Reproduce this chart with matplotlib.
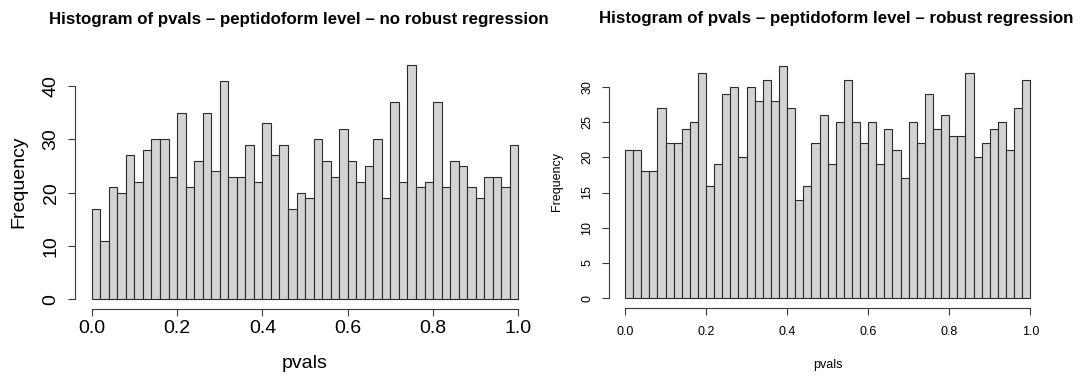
#!/usr/bin/env python3
# Two p-value histograms, peptidoform level, without and with robust regression

import numpy as np
import matplotlib.pyplot as plt

plt.rcParams['font.family'] = ['Liberation Sans', 'DejaVu Sans']

# 50 bins of width 0.02 on [0, 1]
bin_edges = np.linspace(0.0, 1.0, 51)

counts_no_robust = [17, 11, 21, 20, 27, 22, 28, 30, 30, 23,
                    35, 21, 26, 35, 24, 41, 23, 23, 29, 22,
                    33, 27, 29, 17, 20, 19, 30, 26, 23, 32,
                    26, 22, 25, 30, 19, 37, 22, 44, 21, 22,
                    37, 21, 26, 25, 21, 19, 23, 23, 21, 29]

counts_robust = [21, 21, 18, 18, 27, 22, 22, 24, 25, 32,
                 16, 19, 29, 30, 20, 30, 28, 31, 28, 33,
                 27, 14, 16, 22, 26, 19, 25, 31, 25, 22,
                 25, 19, 24, 21, 17, 25, 22, 29, 24, 26,
                 23, 23, 32, 20, 22, 24, 25, 21, 27, 31]

titles = ["Histogram of pvals \u2013 peptidoform level \u2013 no robust regression",
          "Histogram of pvals \u2013 peptidoform level \u2013 robust regression"]
x_ticks = [0.0, 0.2, 0.4, 0.6, 0.8, 1.0]
y_ticks_left = [0, 10, 20, 30, 40]
y_ticks_right = [0, 5, 10, 15, 20, 25, 30]

AXIS_COLOR = '#3a3a3a'


def r_hist(ax, counts, title, yticks, fs, xpad, ypad, title_xy, xlab_y, ylab_x):
    counts = np.asarray(counts)
    widths = np.diff(bin_edges)
    ax.bar(bin_edges[:-1], counts, width=widths, align='edge',
           color='#d3d3d3', edgecolor='#2b2b2b', linewidth=0.8)

    # base-R style axis ranges (4% padding)
    ax.set_xlim(-0.04, 1.04)
    top = counts.max()
    ax.set_ylim(-0.04 * top, 1.04 * top)

    for side in ['top', 'right']:
        ax.spines[side].set_visible(False)
    ax.spines['left'].set_bounds(yticks[0], yticks[-1])
    ax.spines['bottom'].set_bounds(x_ticks[0], x_ticks[-1])
    for side in ['left', 'bottom']:
        ax.spines[side].set_color(AXIS_COLOR)
        ax.spines[side].set_linewidth(0.8)

    ax.set_xticks(x_ticks)
    ax.set_xticklabels([f"{t:.1f}" for t in x_ticks])
    ax.set_yticks(yticks)
    ax.set_yticklabels([str(t) for t in yticks])
    ax.tick_params(axis='both', direction='out', length=5, width=0.8,
                   color=AXIS_COLOR, labelsize=fs)
    ax.tick_params(axis='x', pad=xpad)
    ax.tick_params(axis='y', pad=ypad)
    plt.setp(ax.get_yticklabels(), rotation=90, va='center')

    ax.text(title_xy[0], title_xy[1], title, transform=ax.transAxes,
            ha='center', va='center', fontsize=12.2, fontweight='bold')
    ax.text(0.5, xlab_y, "pvals", transform=ax.transAxes, ha='center',
            va='center', fontsize=fs)
    ax.text(ylab_x, 0.5, "Frequency", transform=ax.transAxes, ha='center',
            va='center', rotation=90, fontsize=fs)


fig = plt.figure(figsize=(10.85, 3.76), dpi=100)
ax_left = fig.add_axes([0.0688, 0.179, 0.4247, 0.674])
ax_right = fig.add_axes([0.5611, 0.182, 0.4034, 0.668])

r_hist(ax_left, counts_no_robust, titles[0], y_ticks_left, 14,
       xpad=3.3, ypad=5.8, title_xy=(0.487, 1.143), xlab_y=-0.218, ylab_x=-0.122)
r_hist(ax_right, counts_robust, titles[1], y_ticks_right, 9,
       xpad=8.1, ypad=6.2, title_xy=(0.520, 1.149), xlab_y=-0.229, ylab_x=-0.118)

fig.savefig('out.png', dpi=100)
